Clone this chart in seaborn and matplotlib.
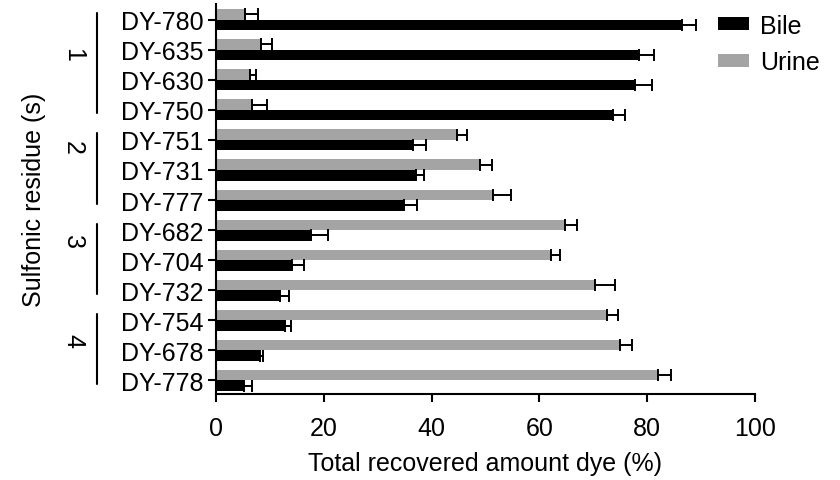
import numpy as np
import pandas as pd
import matplotlib
matplotlib.use("Agg")
import matplotlib.pyplot as plt
import matplotlib.transforms as mtransforms
from matplotlib.patches import Patch
import seaborn as sns

# ---- data ----
dyes = ["DY-780", "DY-635", "DY-630", "DY-750", "DY-751", "DY-731", "DY-777",
        "DY-682", "DY-704", "DY-732", "DY-754", "DY-678", "DY-778"]
bile = [86.4, 78.5, 77.8, 73.6, 36.5, 37.1, 34.8, 17.7, 14.1, 11.8, 12.8, 8.2, 5.2]
bile_err = [2.7, 2.8, 3.0, 2.3, 2.4, 1.4, 2.4, 3.0, 2.3, 1.7, 1.2, 0.6, 1.4]
urine = [5.3, 8.4, 6.3, 6.7, 44.7, 49.0, 51.4, 64.8, 62.1, 70.4, 72.5, 75.0, 82.0]
urine_err = [2.5, 1.9, 1.1, 2.8, 1.8, 2.2, 3.4, 2.2, 1.7, 3.6, 2.0, 2.2, 2.4]
group_labels = ["1", "2", "3", "4"]
group_sizes = [4, 3, 3, 3]
x_ticks = [0, 20, 40, 60, 80, 100]

FS = 18
sns.set_style("ticks")
plt.rcParams["font.family"] = ["Liberation Sans", "DejaVu Sans"]
plt.rcParams["font.size"] = FS
plt.rcParams["text.color"] = "black"
plt.rcParams["axes.labelcolor"] = "black"
plt.rcParams["xtick.color"] = "black"
plt.rcParams["ytick.color"] = "black"
plt.rcParams["axes.edgecolor"] = "black"

df = pd.DataFrame({
    "dye": dyes * 2,
    "value": urine + bile,
    "err": urine_err + bile_err,
    "fluid": ["Urine"] * len(dyes) + ["Bile"] * len(dyes),
})

colors = {"Urine": "#a4a4a4", "Bile": "#000000"}
hue_order = ["Urine", "Bile"]
width = 0.7

fig = plt.figure(figsize=(8.4, 4.81), dpi=100)
ax = fig.add_axes([216 / 840, 1 - 395 / 481, 539 / 840, 390 / 481])

sns.barplot(data=df, y="dye", x="value", hue="fluid", hue_order=hue_order,
            order=dyes, palette=colors, width=width, orient="h",
            errorbar=None, legend=False, linewidth=0, ax=ax)

# one-sided error bars
n_h = len(hue_order)
for i, fl in enumerate(hue_order):
    sub = df[df["fluid"] == fl].set_index("dye").loc[dyes]
    off = (i - (n_h - 1) / 2) * width / n_h
    pos = np.arange(len(dyes)) + off
    ax.errorbar(sub["value"].values, pos,
                xerr=[np.zeros(len(dyes)), sub["err"].values],
                fmt="none", ecolor="black", elinewidth=1.4,
                capsize=4.5, capthick=1.4, zorder=3)

ax.set_xlim(0, 100)
ax.set_ylim(12.45, -0.52)
ax.set_xticks(x_ticks)
ax.set_xticklabels([str(t) for t in x_ticks])
ax.set_xlabel("Total recovered amount dye (%)", fontsize=FS, labelpad=8)
ax.set_ylabel("Sulfonic residue (s)", fontsize=FS)
ax.yaxis.set_label_coords(-0.315, 0.5)

sns.despine(ax=ax)
for s in ["left", "bottom"]:
    ax.spines[s].set_linewidth(1.5)
ax.tick_params(axis="x", length=6, width=1.5, pad=10, labelsize=FS)
ax.tick_params(axis="y", length=6, width=1.5, pad=3, labelsize=FS)

# group brackets
trans = mtransforms.blended_transform_factory(ax.transAxes, ax.transData)
label_offsets = [1.15, 0.25, 0.35, 0.65]
start = 0
for lab, n, lo in zip(group_labels, group_sizes, label_offsets):
    first, last = start, start + n - 1
    ax.plot([-0.2208, -0.2208], [first - 0.22, last + 0.12], transform=trans,
            color="black", lw=1.5, clip_on=False)
    ax.text(-0.265, first + lo, lab, transform=trans, rotation=270,
            ha="center", va="center", fontsize=FS)
    start += n

# legend (Bile first)
handles = [Patch(facecolor=colors["Bile"], edgecolor="none"),
           Patch(facecolor=colors["Urine"], edgecolor="none")]
ax.legend(handles, ["Bile", "Urine"], loc="upper left",
          bbox_to_anchor=(0.931, 0.975), frameon=False, borderpad=0,
          borderaxespad=0, handlelength=1.25, handleheight=0.43,
          handletextpad=0.45, labelspacing=0.5, fontsize=FS)

fig.savefig("out.png", dpi=100)
